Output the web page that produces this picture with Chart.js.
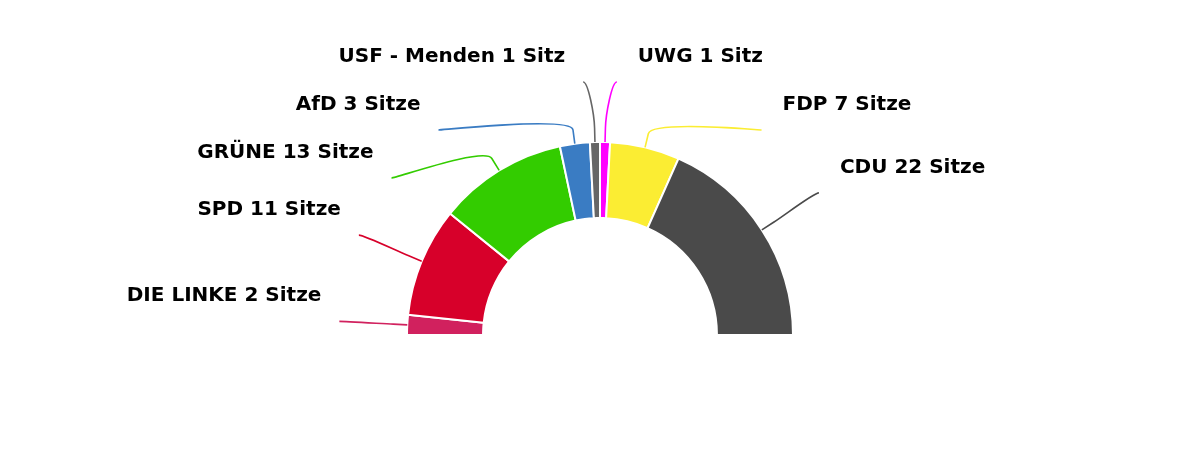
<!DOCTYPE html>
<html lang="de">
<head>
<meta charset="utf-8">
<title>Sitzverteilung</title>
<script src="https://cdn.jsdelivr.net/npm/chart.js@4"></script>
<style>
    html, body { margin: 0; padding: 0; background: #fff; }
    #wrap { width: 1200px; height: 452px; position: relative; }
</style>
</head>
<body>
<div id="wrap"><canvas id="sitzChart"></canvas></div>
<script>
// Daten: Parteien und Sitze (von links nach rechts)
const parteien = ['DIE LINKE', 'SPD', 'GRÜNE', 'AfD', 'USF - Menden', 'UWG', 'FDP', 'CDU'];
const sitze = [2, 11, 13, 3, 1, 1, 7, 22];
const farben = ['#d1215e', '#d7002a', '#33cc00', '#3a7cc3', '#666666', '#ff00ff', '#fbed33', '#4a4a4a'];

function labelText(i) {
    return parteien[i] + ' ' + sitze[i] + (sitze[i] === 1 ? ' Sitz' : ' Sitze');
}

// Beschriftungen mit Verbindungslinien (ähnlich wie bei Highcharts)
const labelPlugin = {
    id: 'sitzLabels',
    afterDatasetsDraw(chart, args, opts) {
        const ctx = chart.ctx;
        const arcs = chart.getDatasetMeta(0).data;
        const items = arcs.map((arc, i) => {
            const p = arc.getProps(['x', 'y', 'startAngle', 'endAngle', 'outerRadius'], true);
            const a = (p.startAngle + p.endAngle) / 2;
            const D = p.outerRadius + opts.distance;
            return { i, a, cx: p.x, cy: p.y, R: p.outerRadius, D, left: Math.cos(a) < 0, natY: p.y + Math.sin(a) * D };
        });

        // Überlappungen pro Seite auflösen
        [true, false].forEach(side => {
            const list = items.filter(it => it.left === side).sort((u, v) => u.natY - v.natY);
            let prev = -Infinity;
            list.forEach(it => {
                const y = Math.max(it.natY, opts.top, prev + opts.spacing);
                const dir = side ? -1 : 1;
                if (it.natY < opts.top && y === opts.top) {
                    it.lx = it.cx + Math.cos(it.a) * it.D + dir * opts.pad;
                } else {
                    const dy = y - it.cy;
                    it.lx = it.cx + dir * Math.sqrt(Math.max(it.D * it.D - dy * dy, 0));
                }
                it.ly = y;
                prev = y;
            });
        });

        ctx.save();
        items.forEach(it => {
            const cos = Math.cos(it.a), sin = Math.sin(it.a);
            const px = it.cx + cos * it.R, py = it.cy + sin * it.R;
            const bx = it.cx + cos * (it.R + opts.breakOffset), by = it.cy + sin * (it.R + opts.breakOffset);

            ctx.beginPath();
            ctx.moveTo(it.lx, it.ly);
            ctx.bezierCurveTo(it.lx + (it.left ? 5 : -5), it.ly, 2 * bx - px, 2 * by - py, bx, by);
            ctx.lineTo(px, py);
            ctx.strokeStyle = farben[it.i];
            ctx.lineWidth = 1.6;
            ctx.stroke();

            ctx.font = 'bold 20px "DejaVu Sans"';
            ctx.fillStyle = '#000';
            ctx.textBaseline = 'alphabetic';
            ctx.textAlign = it.left ? 'right' : 'left';
            ctx.fillText(labelText(it.i), it.lx + (it.left ? -18 : 21), it.ly - 20);
        });
        ctx.restore();
    }
};

const ctx = document.getElementById('sitzChart').getContext('2d');
const chart = new Chart(ctx, {
    type: 'doughnut',
    data: {
        labels: parteien,
        datasets: [{
            data: sitze,
            backgroundColor: farben,
            borderColor: '#ffffff',
            borderWidth: 2
        }]
    },
    options: {
        responsive: true,
        maintainAspectRatio: false,
        animation: false,
        events: [],
        rotation: -90,
        circumference: 180,
        cutout: '60.6%',
        layout: {
            padding: { top: 141, bottom: 116, left: 406, right: 406 }
        },
        plugins: {
            legend: { display: false },
            tooltip: { enabled: false },
            sitzLabels: { distance: 68, spacing: 48, top: 82, pad: 10, breakOffset: 14 }
        }
    },
    plugins: [labelPlugin]
});
</script>
</body>
</html>
